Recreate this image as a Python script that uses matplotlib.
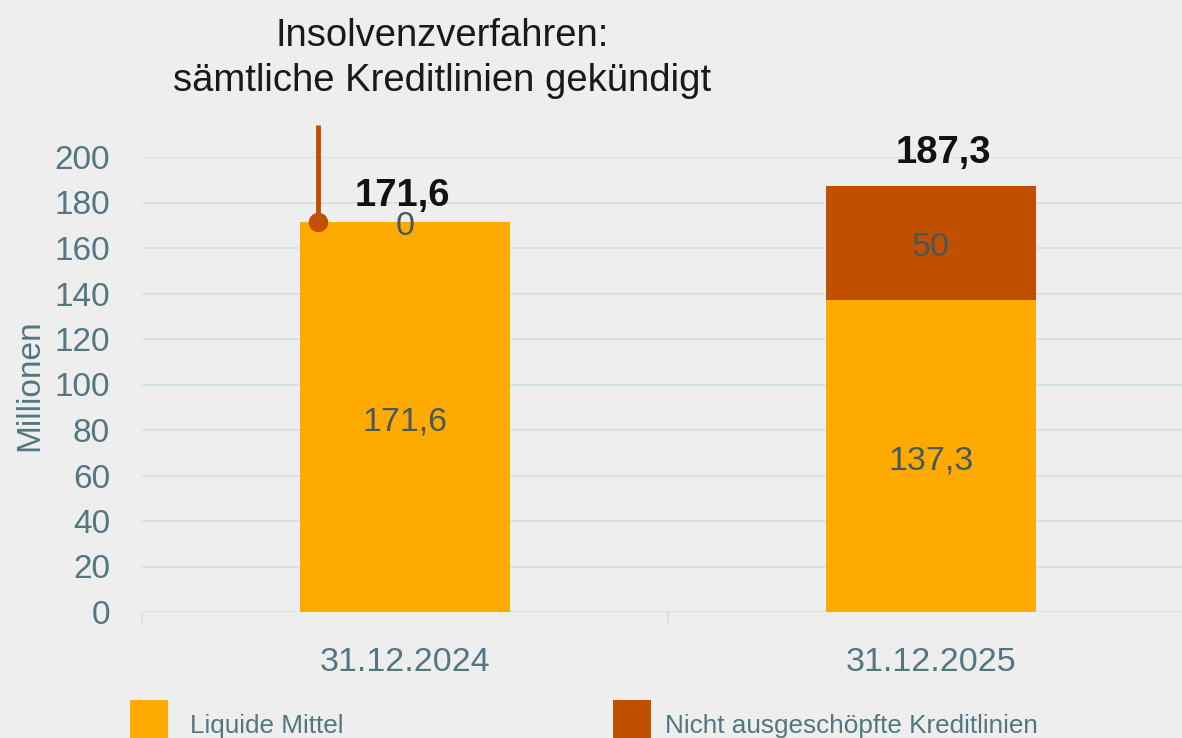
import matplotlib
matplotlib.use('Agg')
import matplotlib.pyplot as plt
from matplotlib.patches import Rectangle

categories = ['31.12.2024', '31.12.2025']
liquide = [171.6, 137.3]
kredit = [0, 50]
series_names = ['Liquide Mittel', 'Nicht ausgeschöpfte Kreditlinien']
yticks = list(range(0, 201, 20))
title_lines = ['Insolvenzverfahren:', 'sämtliche Kreditlinien gekündigt']
ylabel = 'Millionen'
pin_top = 214

C_LIQ = '#FFAA00'
C_KRED = '#C04F00'
C_TEAL = '#527780'
C_INNER = '#46595e'
C_GRID = '#d6e2e5'
BG = '#eeeeee'


def de(v):
    return ('{:g}'.format(round(v, 1))).replace('.', ',')


plt.rcParams['font.family'] = ['Liberation Sans', 'DejaVu Sans']
W, H = 1182, 738
fig = plt.figure(figsize=(W / 100, H / 100), dpi=100)
fig.patch.set_facecolor(BG)

ax = fig.add_axes([142 / W, (H - 612) / H, 1052 / W, 455 / H])
ax.set_facecolor('none')
x = list(range(len(categories)))
totals = [a + b for a, b in zip(liquide, kredit)]

ax.bar(x, liquide, width=0.4, color=C_LIQ, zorder=2)
ax.bar(x, kredit, bottom=liquide, width=0.4, color=C_KRED, zorder=2)

ax.set_xlim(-0.5, 1.5)
ax.set_ylim(0, 200)
ax.set_yticks(yticks)
ax.set_yticklabels([str(t) for t in yticks])
ax.yaxis.grid(True, color=C_GRID, lw=1.4, zorder=0)
ax.set_axisbelow(True)
for s in ax.spines.values():
    s.set_visible(False)
ax.tick_params(axis='y', length=0, pad=23, labelsize=24, labelcolor=C_TEAL)
ax.set_xticks(x)
ax.set_xticklabels(categories)
ax.tick_params(axis='x', which='major', length=0, pad=25, labelsize=24.5, labelcolor=C_TEAL)
ax.set_xticks([-0.5, 0.5, 1.5], minor=True)
ax.tick_params(axis='x', which='minor', length=8, width=1.4, color=C_GRID)

# inner labels
for i in x:
    ax.annotate(de(liquide[i]), (i, liquide[i] / 2), xytext=(0, -5), textcoords='offset pixels',
                ha='center', va='center', fontsize=24.5, color=C_INNER, zorder=3)
    ax.annotate(de(kredit[i]), (i, liquide[i] + kredit[i] / 2), xytext=(0, -5),
                textcoords='offset pixels', ha='center', va='center', fontsize=24.5,
                color=C_INNER, zorder=3)

# total labels
offsets = [(-3, 16), (12, 23)]
for i in x:
    ax.annotate(de(totals[i]), (i, totals[i]), xytext=offsets[i], textcoords='offset pixels',
                ha='center', va='baseline', fontsize=27.5, fontweight='bold',
                color='#111111', annotation_clip=False, zorder=4)

# pin marker on first bar
ax.plot([-0.165, -0.165], [liquide[0], pin_top], color=C_KRED, lw=3.5,
        clip_on=False, zorder=4, solid_capstyle='butt')
ax.plot([-0.165], [liquide[0]], 'o', color=C_KRED, ms=13, clip_on=False, zorder=5)

# title
fig.text(442 / W, 1 - 46 / H, title_lines[0], ha='center', va='baseline', fontsize=27.5, color='#151a1c')
fig.text(442 / W, 1 - 91 / H, title_lines[1], ha='center', va='baseline', fontsize=27.5, color='#151a1c')

# y label
fig.text(30 / W, 1 - 385 / H, ylabel, rotation=90, ha='center', va='center',
         fontsize=24, color=C_TEAL)

# legend
leg = [(130, 190, C_LIQ), (613, 665, C_KRED)]
for (sx, tx, c), name in zip(leg, series_names):
    fig.add_artist(Rectangle((sx / W, 0), 38 / W, 38 / H, transform=fig.transFigure,
                             facecolor=c, edgecolor='none'))
    fig.text(tx / W, 1 - 733 / H, name, ha='left', va='baseline', fontsize=18.8, color=C_TEAL)

fig.savefig('out.png', dpi=100, facecolor=BG)
